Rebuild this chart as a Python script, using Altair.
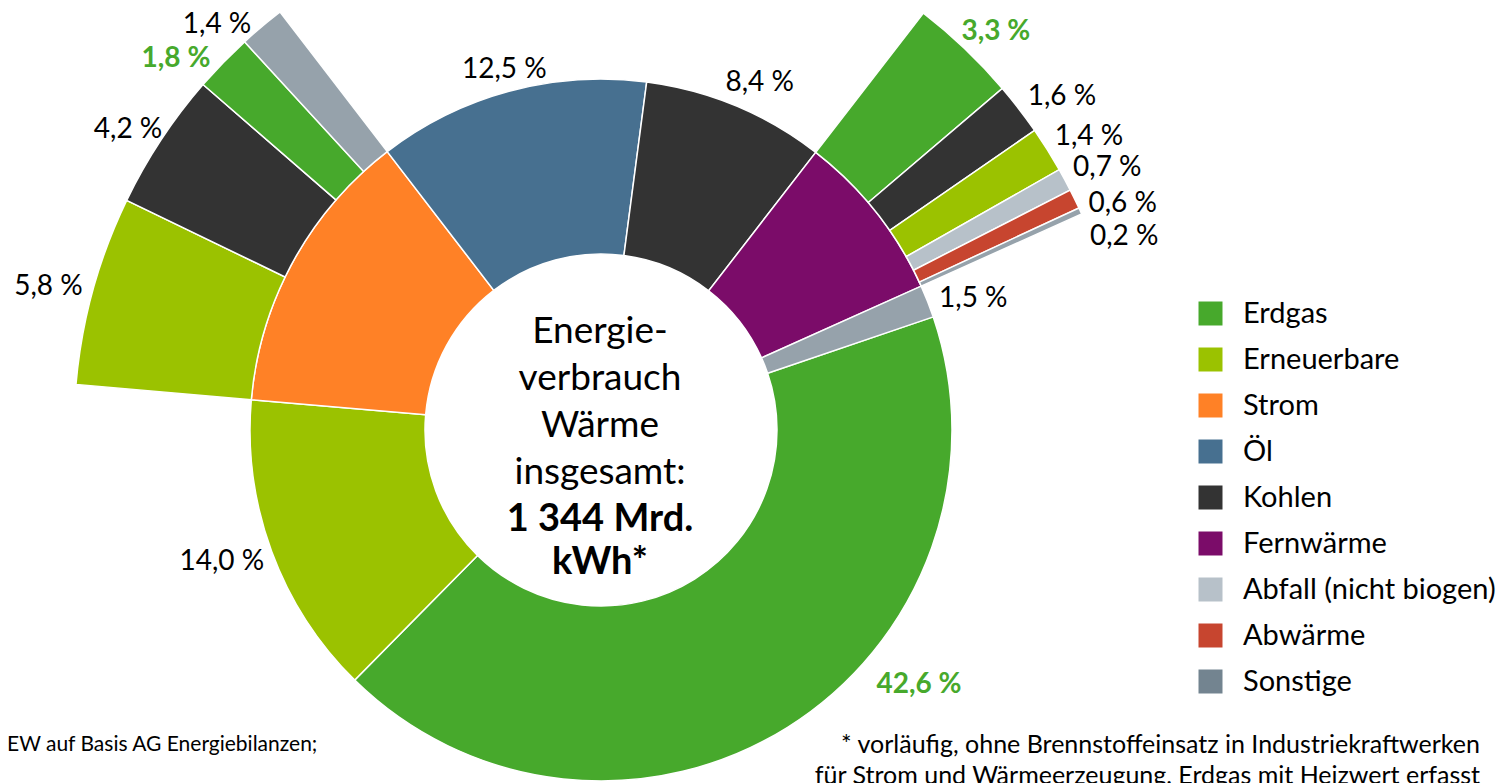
import math
import altair as alt
import pandas as pd

# ---------------- data ----------------
main_cat = ["Erdgas", "Erneuerbare", "Strom", "Öl", "Kohlen", "Fernwärme", "Sonstige"]
main_val = [42.6, 14.0, 13.2, 12.5, 8.4, 7.8, 1.5]

strom_cat = ["Erneuerbare", "Kohlen", "Erdgas", "Sonstige"]
strom_val = [5.8, 4.2, 1.8, 1.4]

fw_cat = ["Erdgas", "Kohlen", "Erneuerbare", "Abfall (nicht biogen)", "Abwärme", "Sonstige"]
fw_val = [3.3, 1.6, 1.4, 0.7, 0.6, 0.2]

legend_cat = ["Erdgas", "Erneuerbare", "Strom", "Öl", "Kohlen", "Fernwärme",
              "Abfall (nicht biogen)", "Abwärme", "Sonstige"]
legend_col = ["#47A92C", "#9BC200", "#FF8126", "#477090", "#333333", "#7B0C69",
              "#B7C1C9", "#C7452F", "#738490"]

center_lines = ["Energie-", "verbrauch", "Wärme", "insgesamt:"]
center_bold = ["1 344 Mrd.", "kWh*"]
source_text = "EW auf Basis AG Energiebilanzen;"
note_lines = ["* vorläufig, ohne Brennstoffeinsatz in Industriekraftwerken",
              "für Strom und Wärmeerzeugung, Erdgas mit Heizwert erfasst"]

# ---------------- layout / style ----------------
W, H = 1489, 775
CX, CY = 593, 422
R_IN, R_MID, R_OUT = 176, 351, 527
START_DEG = 71.2
FONT = "Lato"
LABEL_FS = 28
LABEL_PAD = 6
GREEN = "#47A92C"
# small nudges applied to label positions: angle (degrees) and radius (px)
main_nudge = [-19.2, 1.0, 0.0, 0.0, 2.0, 0.0, 2.1]
main_rnudge = [10, 0, 0, -5, 0, 0, 0]
strom_nudge = [-0.9, -1.0, -3.1, -3.4]
strom_rnudge = [0, -9, -3, -7]
fw_nudge = [1.1, 1.7, 1.1, 1.0, 2.6, 4.3]
fw_rnudge = [-5, 0, 0, 0, -2, -13]
has_sub = {"Strom", "Fernwärme"}


def fmt(v):
    return f"{v:.1f}".replace(".", ",") + " %"


def label_radius(edge, pct, text):
    ang = math.radians(START_DEG + pct * 3.6)
    w = 0.52 * LABEL_FS * len(text)
    h = 0.72 * LABEL_FS
    return edge + LABEL_PAD + abs(math.sin(ang)) * w / 2 + abs(math.cos(ang)) * h / 2


main_rows, label_rows, outer_rows = [], [], []
cum = 0.0
starts = {}
for c, v, nd, rn in zip(main_cat, main_val, main_nudge, main_rnudge):
    main_rows.append(dict(cat=c, t0=cum, t1=cum + v))
    starts[c] = cum
    if c not in has_sub:
        t = fmt(v)
        lt = cum + v / 2 + nd / 3.6
        label_rows.append(dict(cat=c, text=t, lt=lt, lr=label_radius(R_MID, lt, t) + rn))
    cum += v

for parent, cats, vals, nudges, rnudges in [
    ("Strom", strom_cat, strom_val, strom_nudge, strom_rnudge),
    ("Fernwärme", fw_cat, fw_val, fw_nudge, fw_rnudge),
]:
    c0 = starts[parent]
    for c, v, nd, rn in zip(cats, vals, nudges, rnudges):
        outer_rows.append(dict(cat=c, t0=c0, t1=c0 + v))
        t = fmt(v)
        lt = c0 + v / 2 + nd / 3.6
        label_rows.append(dict(cat=c, text=t, lt=lt, lr=label_radius(R_OUT, lt, t) + rn))
        c0 += v

main_df = pd.DataFrame(main_rows)
outer_df = pd.DataFrame(outer_rows)
lab_df = pd.DataFrame(label_rows)
lab_df["bold"] = lab_df["cat"] == "Erdgas"

a0 = math.radians(START_DEG)
theta_scale = alt.Scale(domain=[0, 100], range=[a0, a0 + 2 * math.pi])

color = alt.Color(
    "cat:N",
    scale=alt.Scale(domain=legend_cat, range=legend_col),
    legend=alt.Legend(
        title=None, orient="none", legendX=1188, legendY=291,
        symbolType="square", symbolSize=576, symbolStrokeWidth=0,
        labelFont=FONT, labelFontSize=29, labelColor="black",
        labelOffset=18, rowPadding=16, padding=0, labelLimit=400,
    ),
)
opacity = alt.condition("datum.cat === 'Sonstige'", alt.value(0.75), alt.value(1.0))


def arc_layer(df, r_in, r_out):
    return alt.Chart(df).mark_arc(
        innerRadius=r_in, outerRadius=r_out, stroke="white", strokeWidth=1.5
    ).encode(
        theta=alt.Theta("t0:Q", scale=theta_scale, stack=None),
        theta2="t1:Q",
        color=color,
        opacity=opacity,
        x=alt.value(CX), y=alt.value(CY),
    )


main_arc = arc_layer(main_df, R_IN, R_MID)
outer_arc = arc_layer(outer_df, R_MID, R_OUT)


def label_layer(bold):
    return alt.Chart(lab_df).transform_filter(
        "datum.bold" if bold else "!datum.bold"
    ).mark_text(
        font=FONT, fontSize=LABEL_FS, fontWeight="bold" if bold else "normal",
        color=GREEN if bold else "black", align="center", baseline="middle",
    ).encode(
        theta=alt.Theta("lt:Q", scale=theta_scale, stack=None),
        radius=alt.Radius("lr:Q", scale=None),
        text="text:N",
        x=alt.value(CX), y=alt.value(CY),
    )


def text_block(lines, x, y, size, lh, align="center", weight="normal"):
    # y is the middle of the first line
    df = pd.DataFrame({"t": ["\n".join(lines)]})
    return alt.Chart(df).mark_text(
        font=FONT, fontSize=size, lineHeight=lh, lineBreak="\n", align=align,
        baseline="middle", color="black", fontWeight=weight,
    ).encode(text="t:N", x=alt.value(x), y=alt.value(y))


center1 = text_block(center_lines, CX - 1, 324, 37, 47)
center2 = text_block(center_bold, CX - 1, 512, 38, 43, weight="bold")
source = text_block([source_text], -1, 737, 21, 30, align="left")
notes = text_block(note_lines, 1472, 737, 25, 31, align="right")

chart = alt.layer(
    main_arc, outer_arc, label_layer(False), label_layer(True),
    center1, center2, source, notes,
).properties(
    width=W, height=H, padding=0, autosize=alt.AutoSizeParams(type="none"),
    background="white",
).configure_view(strokeWidth=0)

chart.save("out.html", embed_options={"renderer": "svg", "actions": False})
